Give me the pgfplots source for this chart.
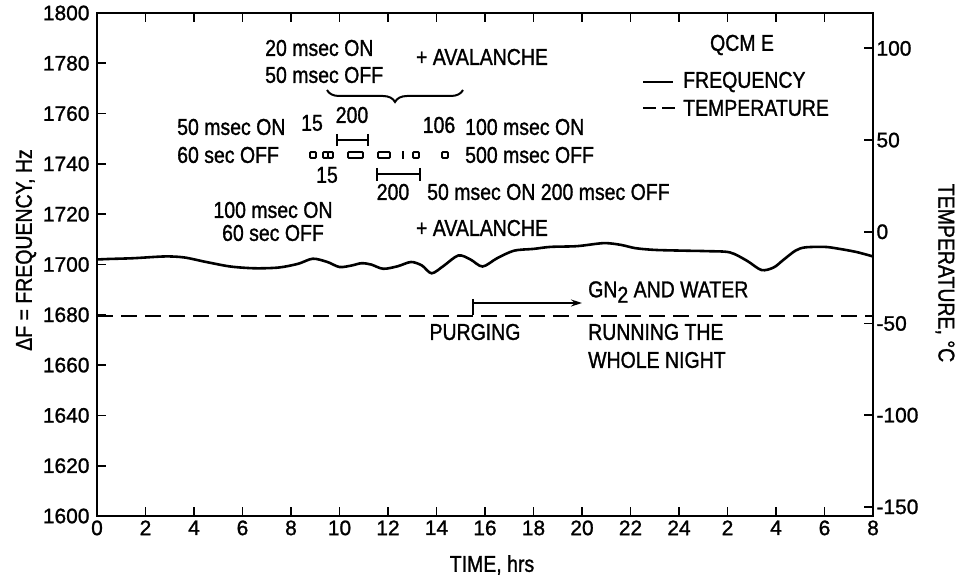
\documentclass[border=0pt]{standalone}
\usepackage{pgfplots}
\pgfplotsset{compat=1.18}
\usepackage{fontspec}
\setmainfont{Liberation Sans}[FakeStretch=0.85, FakeBold=1.2]
\newfontfamily\tickfont{Liberation Sans}[FakeBold=1.2]
\usetikzlibrary{calc,decorations.pathreplacing,arrows.meta}
\begin{document}
\begin{tikzpicture}[font=\fontsize{23}{27}\selectfont]
\begin{axis}[
  name=main,
  scale only axis, width=776bp, height=503bp,
  xmin=0, xmax=32, ymin=1600, ymax=1800,
  xtick={0,2,...,32},
  xticklabels={0,2,4,6,8,10,12,14,16,18,20,22,24,2,4,6,8},
  ytick={1600,1620,...,1800},
  xtick pos=both, ytick pos=left,
  tick align=inside, major tick length=9bp,
  axis line style={line width=2pt},
  every tick/.style={line width=1.8pt, black},
  tick label style={font=\tickfont\fontsize{21}{25}\selectfont},
  /pgf/number format/assume math mode=true,
  /pgf/number format/set thousands separator={},
  yticklabel style={xshift=-4bp},
  xticklabel style={yshift=-1bp},
]
\addplot[line width=2.6pt, smooth, tension=0.5] coordinates {
(0,1702.0) (0.5,1702.2) (1.5,1702.5) (2.8,1703.2) (3.6,1702.8) (4.5,1701.0)
(5.5,1699.2) (6.5,1698.5) (7.5,1698.8) (8.3,1700.3) (8.9,1702.3) (9.5,1701.0)
(10.0,1699.0) (10.5,1699.6) (10.9,1700.5) (11.3,1700.0) (11.8,1698.3) (12.4,1699.3)
(12.95,1701.0) (13.4,1699.6) (13.8,1696.5) (14.3,1699.5) (14.9,1703.6) (15.4,1702.0)
(15.9,1699.2) (16.5,1702.5) (17.2,1705.5) (18.0,1706.2) (18.7,1707.0) (19.8,1707.3)
(20.9,1708.5) (21.6,1707.8) (22.2,1706.5) (23.0,1705.8) (24.2,1705.5) (25.2,1705.3)
(26.1,1704.8) (26.8,1701.5) (27.4,1697.8) (27.9,1698.8) (28.3,1701.8) (28.8,1705.5)
(29.2,1706.8) (30.0,1707.0) (30.5,1706.4) (31.3,1705.0) (32,1703.2)
};
\end{axis}
\begin{axis}[
  scale only axis, width=776bp, height=503bp,
  xmin=0, xmax=32, ymin=-155, ymax=119.3,
  axis x line=none, axis y line*=right,
  ytick={-150,-100,...,100},
  tick align=inside, major tick length=9bp,
  axis line style={line width=2pt},
  every tick/.style={line width=1.8pt, black},
  tick label style={font=\tickfont\fontsize{21}{25}\selectfont},
  /pgf/number format/assume math mode=true,
]
\addplot[line width=2.6pt, dash pattern=on 16bp off 8bp] coordinates {(0,-46) (8,-46) (16,-46) (24,-46) (32,-46)};
\end{axis}
\begin{scope}[shift={($(main.south west)+(-97bp,516bp)$)}, x=1bp, y=-1bp]
  \tikzset{every node/.style={inner sep=0pt}}
  % axis labels
  \node[rotate=90] at (26,250) {ΔF = FREQUENCY, Hz};
  \node[rotate=-90] at (945,273) {TEMPERATURE, °C};
  \node at (492,565) {TIME, hrs};
  % top annotations
  \node[anchor=west] at (265,48) {20 msec ON};
  \node[anchor=west] at (265,75) {50 msec OFF};
  \node at (482,57) {+ AVALANCHE};
  \draw[line width=2pt, decorate, decoration={brace, amplitude=12bp}] (463,90) -- (327,90);
  \node[anchor=west] at (177,127) {50 msec ON};
  \node[anchor=west] at (177,155) {60 sec OFF};
  \node at (312,123) {15};
  \node at (352,115) {200};
  \draw[line width=1.3pt] (337,140) -- (368,140) (337,134) -- (337,146) (368,134) -- (368,146);
  \draw[line width=1.8pt, rounded corners=1bp]
     (310,152) rectangle (316,158)
     (323,152) rectangle (328,158) (328,152) rectangle (333,158)
     (348,152) rectangle (363,158)
     (378,152) rectangle (390,158)
     (413,152) rectangle (419,158)
     (442,152) rectangle (448,158);
  \draw[line width=1.8pt] (403,151) -- (403,159);
  \node at (327,175) {15};
  \draw[line width=1.3pt] (377,174) -- (420,174) (377,168) -- (377,181) (420,168) -- (420,181);
  \node at (393,192) {200};
  \node at (439,125) {106};
  \node[anchor=west] at (465,127) {100 msec ON};
  \node[anchor=west] at (465,155) {500 msec OFF};
  \node[anchor=west] at (427,192) {50 msec ON 200 msec OFF};
  \node at (273,210) {100 msec ON};
  \node at (273,233) {60 sec OFF};
  \node at (482,228) {+ AVALANCHE};
  % legend
  \node at (742,45) {QCM E};
  \draw[line width=2.6pt] (643,82) -- (673,82);
  \node[anchor=west] at (683,82) {FREQUENCY};
  \draw[line width=2.6pt] (643,108) -- (656,108) (662,108) -- (675,108);
  \node[anchor=west] at (683,108) {TEMPERATURE};
  % purging
  \node[anchor=west] at (588,292) {GN\raisebox{-0.45ex}{2} AND WATER};
  \draw[line width=1.4pt, -{Stealth[length=11bp,width=7bp]}] (473,303) -- (582,303);
  \draw[line width=1.6pt] (473,299) -- (473,315);
  \node at (475,332) {PURGING};
  \node[anchor=west] at (588,332) {RUNNING THE};
  \node[anchor=west] at (588,360) {WHOLE NIGHT};
  \pgfresetboundingbox
  \path[use as bounding box] (0,0) rectangle (962,582);
\end{scope}
\end{tikzpicture}
\end{document}
